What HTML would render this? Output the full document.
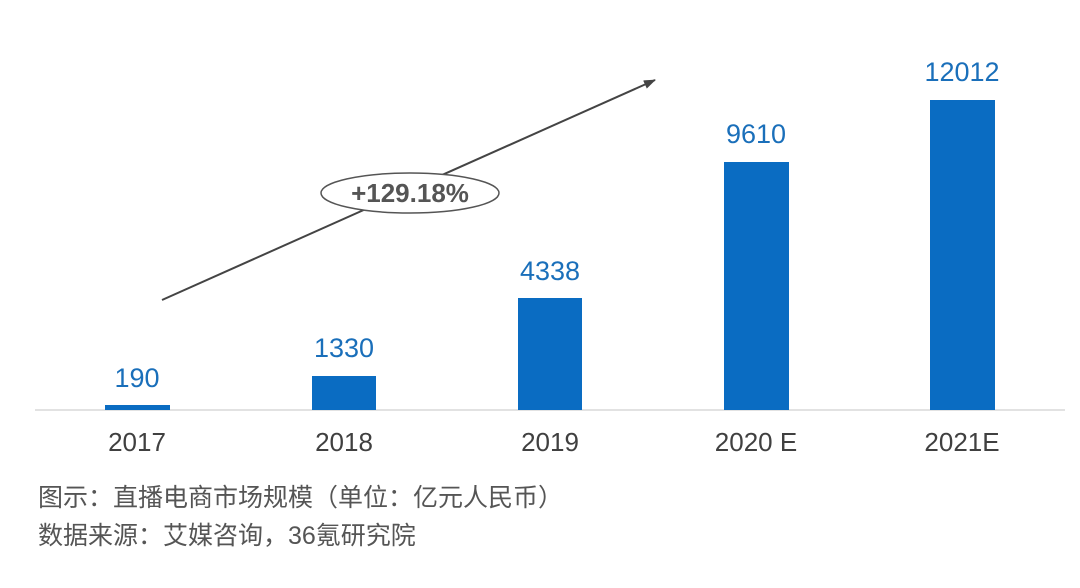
<!DOCTYPE html>
<html><head><meta charset="utf-8"><style>
html,body{margin:0;padding:0;background:#fff;width:1080px;height:588px;overflow:hidden}
svg{display:block}
</style></head><body>
<svg width="1080" height="588" viewBox="0 0 1080 588" xmlns="http://www.w3.org/2000/svg">
<defs><marker id="ah" markerWidth="12" markerHeight="9" refX="11" refY="4.5" orient="auto" markerUnits="userSpaceOnUse"><path d="M0,0 L12,4.5 L0,9 Z" fill="#444"/></marker></defs>
<line x1="35" y1="410" x2="1065" y2="410" stroke="#d9d9d9" stroke-width="1.5"/>
<g fill="#0a6cc2">
<rect x="105" y="405" width="65" height="5"/>
<rect x="312" y="376" width="64" height="34"/>
<rect x="518" y="298" width="64" height="112"/>
<rect x="724" y="162" width="65" height="248"/>
<rect x="930" y="100" width="65" height="310"/>
</g>
<g font-family="Liberation Sans, sans-serif" font-size="27" fill="#1a6fba" text-anchor="middle">
<text x="137" y="387">190</text>
<text x="344" y="357">1330</text>
<text x="550" y="280">4338</text>
<text x="756" y="143">9610</text>
<text x="962" y="81">12012</text>
</g>
<g font-family="Liberation Sans, sans-serif" font-size="26" fill="#404040" text-anchor="middle">
<text x="137" y="451">2017</text>
<text x="344" y="451">2018</text>
<text x="550" y="451">2019</text>
<text x="756" y="451">2020 E</text>
<text x="962" y="451">2021E</text>
</g>
<line x1="162" y1="300" x2="655" y2="80" stroke="#444" stroke-width="2" marker-end="url(#ah)"/>
<ellipse cx="410" cy="193" rx="89" ry="20" fill="#fff" stroke="#555" stroke-width="1.5"/>
<text x="410" y="202" font-family="Liberation Sans, sans-serif" font-size="26" font-weight="bold" fill="#555" text-anchor="middle">+129.18%</text>
<g font-family="Liberation Sans, 'Noto Sans CJK SC', sans-serif" font-size="25" fill="#555">
<text x="38" y="506">图示：直播电商市场规模（单位：亿元人民币）</text>
<text x="38" y="544">数据来源：艾媒咨询，36氪研究院</text>
</g>
</svg>
</body></html>
